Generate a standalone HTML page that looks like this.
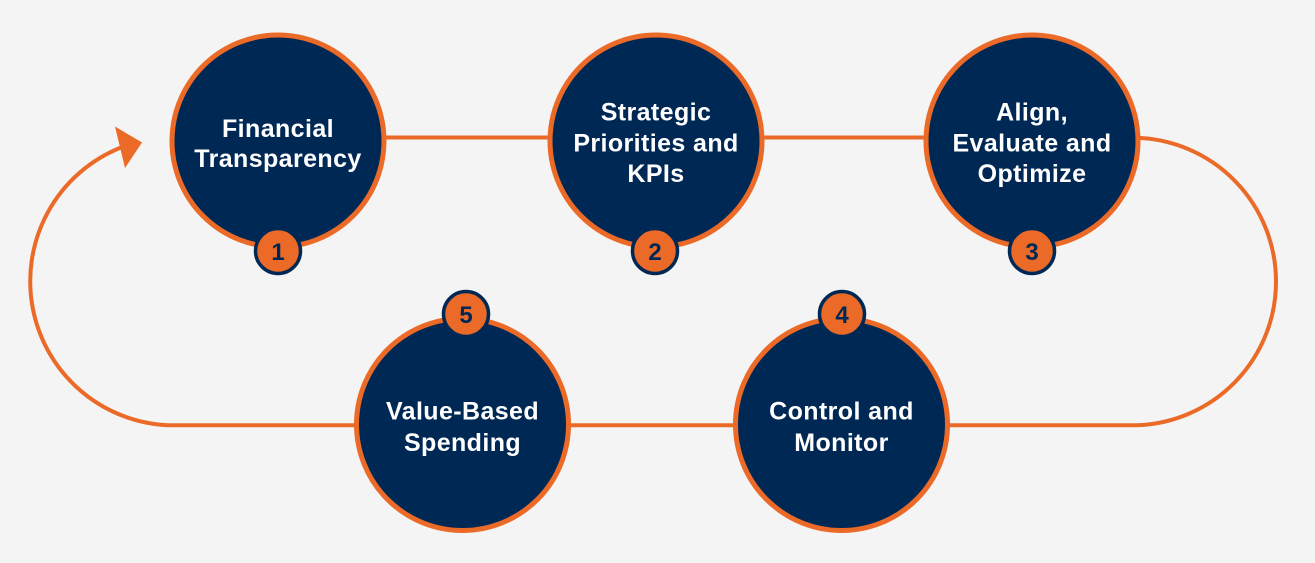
<!DOCTYPE html>
<html>
<head>
<meta charset="utf-8">
<style>
  html, body { margin: 0; padding: 0; background: #f4f4f4; }
  body { width: 1315px; height: 563px; overflow: hidden; }
  svg { display: block; }
  .lbl { font-family: "Liberation Sans", Arial, sans-serif; font-weight: bold; font-size: 25px; fill: #ffffff; letter-spacing: 0.4px; }
  .num { font-family: "Liberation Sans", Arial, sans-serif; font-weight: bold; font-size: 24px; fill: #002855; }
</style>
</head>
<body>
<svg width="1315" height="563" viewBox="0 0 1315 563" xmlns="http://www.w3.org/2000/svg">
  <rect width="1315" height="563" fill="#f4f4f4"/>

  <!-- connectors -->
  <g fill="none" stroke="#ec6a27" stroke-width="4">
    <line x1="278" y1="137.5" x2="1136" y2="137.5"/>
    <path d="M1136,137.8 A143.8,143.8 0 0 1 1136,425.3"/>
    <line x1="1136" y1="425.3" x2="174" y2="425.3"/>
    <path d="M174,425.3 A144,144 0 0 1 121,147.5"/>
  </g>
  <polygon points="142,142.5 115,126.5 125,168" fill="#ec6a27"/>

  <!-- circles -->
  <g fill="#002855" stroke="#ec6a27" stroke-width="5">
    <circle cx="278" cy="141" r="106"/>
    <circle cx="656" cy="141" r="106"/>
    <circle cx="1032" cy="141" r="106"/>
    <circle cx="841.5" cy="424.5" r="106"/>
    <circle cx="462.5" cy="424.5" r="106"/>
  </g>

  <!-- labels -->
  <text class="lbl" text-anchor="middle" x="278" y="137">Financial</text>
  <text class="lbl" text-anchor="middle" x="278" y="167">Transparency</text>

  <text class="lbl" text-anchor="middle" x="656" y="120.5">Strategic</text>
  <text class="lbl" text-anchor="middle" x="656" y="151.5">Priorities and</text>
  <text class="lbl" text-anchor="middle" x="656" y="182">KPIs</text>

  <text class="lbl" text-anchor="middle" x="1032" y="120.5">Align,</text>
  <text class="lbl" text-anchor="middle" x="1032" y="151.5">Evaluate and</text>
  <text class="lbl" text-anchor="middle" x="1032" y="182">Optimize</text>

  <text class="lbl" text-anchor="middle" x="841.5" y="419.5">Control and</text>
  <text class="lbl" text-anchor="middle" x="841.5" y="451">Monitor</text>

  <text class="lbl" text-anchor="middle" x="462.5" y="419.5">Value-Based</text>
  <text class="lbl" text-anchor="middle" x="462.5" y="451">Spending</text>

  <!-- badges -->
  <g fill="#ec6a27" stroke="#002855" stroke-width="3.5">
    <circle cx="278" cy="251" r="22.5"/>
    <circle cx="655" cy="251" r="22.5"/>
    <circle cx="1032" cy="251" r="22.5"/>
    <circle cx="842" cy="314" r="22.5"/>
    <circle cx="466" cy="314" r="22.5"/>
  </g>
  <text class="num" text-anchor="middle" x="278" y="260">1</text>
  <text class="num" text-anchor="middle" x="655" y="260">2</text>
  <text class="num" text-anchor="middle" x="1032" y="260">3</text>
  <text class="num" text-anchor="middle" x="842" y="323">4</text>
  <text class="num" text-anchor="middle" x="466" y="323">5</text>
</svg>
</body>
</html>
